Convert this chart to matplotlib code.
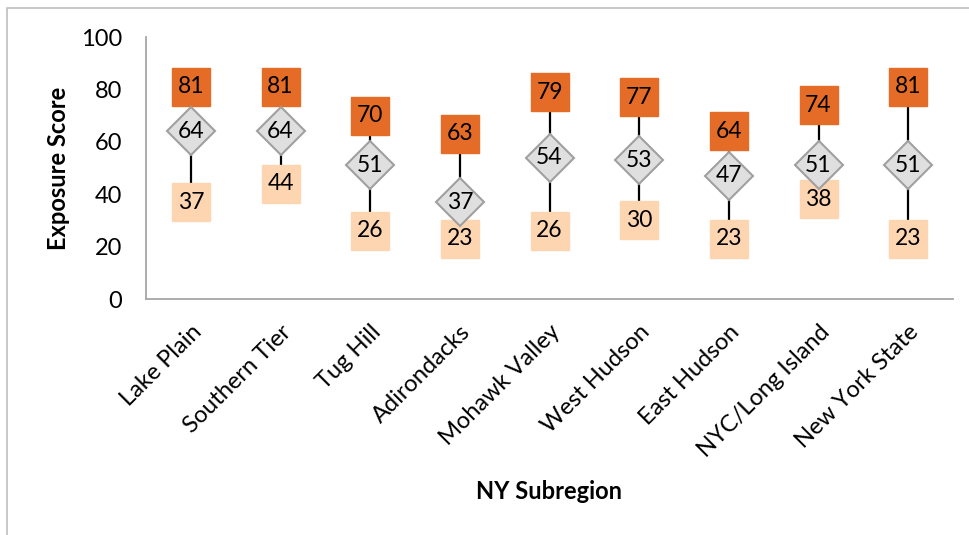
import matplotlib
matplotlib.use('Agg')
import matplotlib.pyplot as plt
from matplotlib.patches import Rectangle
import numpy as np

plt.rcParams['font.family'] = ['Lato', 'DejaVu Sans']

regions = ['Lake Plain', 'Southern Tier', 'Tug Hill', 'Adirondacks', 'Mohawk Valley',
           'West Hudson', 'East Hudson', 'NYC/Long Island', 'New York State']
high = [81, 81, 70, 63, 79, 77, 64, 74, 81]
mid = [64, 64, 51, 37, 54, 53, 47, 51, 51]
low = [37, 44, 26, 23, 26, 30, 23, 38, 23]

dark_orange = '#E46C26'
peach = '#FDD5B1'
diamond_fill = '#DFDFDF'
diamond_edge = '#A0A0A0'
axis_gray = '#A6A6A6'

fig = plt.figure(figsize=(9.7, 5.35), dpi=100)
ax = fig.add_axes([146 / 970, 1 - 299 / 535, (953 - 146) / 970, (299 - 37) / 535])

# gray border around the chart area (only left and top edges are visible)
fig.patches.append(Rectangle((7 / 970, -0.05), 1.2, 1 - 8 / 535 + 0.05,
                             transform=fig.transFigure, fill=False,
                             edgecolor='#BFBFBF', linewidth=1.2))

x = np.arange(len(regions))
ax.vlines(x, low, high, color='black', linewidth=1.6, zorder=1)
ax.plot(x, high, linestyle='none', marker='s', markersize=28, markerfacecolor=dark_orange,
        markeredgecolor=dark_orange, zorder=2)
ax.plot(x, low, linestyle='none', marker='s', markersize=28, markerfacecolor=peach,
        markeredgecolor=peach, zorder=2)
ax.plot(x, mid, linestyle='none', marker='D', markersize=24, markerfacecolor=diamond_fill,
        markeredgecolor=diamond_edge, markeredgewidth=1.5, zorder=3)

for xi, h, m, l in zip(x, high, mid, low):
    for v in (h, m, l):
        ax.text(xi, v, str(v), ha='center', va='center', fontsize=16.5, color='black', zorder=4)

ax.set_xlim(-0.5, len(regions) - 0.5)
ax.set_ylim(0, 100)
ax.set_yticks(range(0, 101, 20))
ax.set_xticks(x)
ax.set_xticklabels(regions, rotation=45, ha='right', va='top', rotation_mode='anchor', fontsize=17)
ax.tick_params(axis='y', length=0, pad=17, labelsize=17)
ax.tick_params(axis='x', length=0, pad=16)

for side in ('top', 'right'):
    ax.spines[side].set_visible(False)
for side in ('left', 'bottom'):
    ax.spines[side].set_color(axis_gray)
    ax.spines[side].set_linewidth(1.3)

ax.set_ylabel('Exposure Score', fontsize=17, fontweight='bold', labelpad=8)
ax.set_xlabel('NY Subregion', fontsize=17, fontweight='bold', labelpad=14)

fig.savefig('out.png', dpi=100)
